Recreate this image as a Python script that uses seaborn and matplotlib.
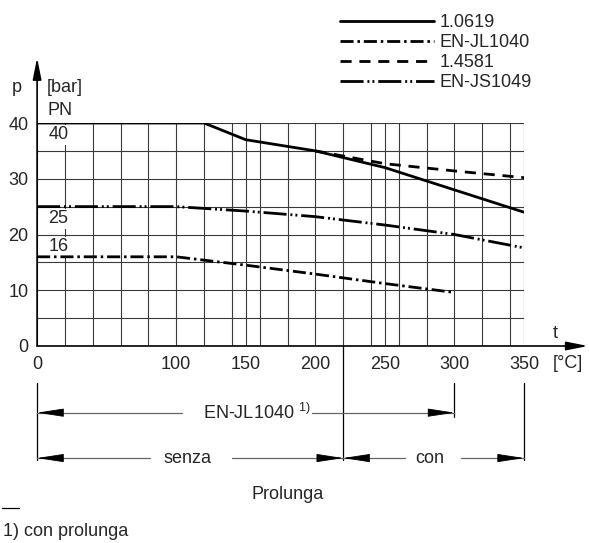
import matplotlib
matplotlib.use('Agg')
import matplotlib.pyplot as plt
import seaborn as sns

# curve data
temp_1_0619 = [0, 120, 150, 200, 250, 300, 350]
p_1_0619 = [40, 40, 37, 35, 32, 28, 24]

temp_1_4581 = [200, 250, 300, 350]
p_1_4581 = [35, 32.7, 31.4, 30.2]

temp_js1049 = [0, 100, 150, 200, 250, 300, 350]
p_js1049 = [25, 25, 24.2, 23.2, 21.7, 20.0, 17.6]

temp_jl1040 = [0, 100, 150, 200, 250, 300]
p_jl1040 = [16, 16, 14.5, 12.9, 11.2, 9.6]

x_ticks = [0, 100, 150, 200, 250, 300, 350]
y_ticks = [0, 10, 20, 30, 40]
x_grid = list(range(0, 360, 20)) + [150, 250, 350]
y_grid = list(range(0, 45, 5))

pn_labels = ['40', '25', '16']
pn_label_p = [37.85, 22.8, 17.8]

sns.set_style('white')
plt.rcParams['font.family'] = ['Liberation Sans', 'DejaVu Sans']
plt.rcParams['font.size'] = 13

fig = plt.figure(figsize=(5.89, 5.43), dpi=100)
ax = fig.add_axes([37.1 / 589, 197 / 543, 486.9 / 589, 223 / 543])

lw = 2.0
sns.lineplot(x=temp_1_0619, y=p_1_0619, ax=ax, color='black', lw=lw,
             label='1.0619', zorder=5)
sns.lineplot(x=temp_jl1040, y=p_jl1040, ax=ax, color='black', lw=lw,
             linestyle=(0, (4.7, 1.4, 0.9, 1.4)), label='EN-JL1040', zorder=5)
sns.lineplot(x=temp_1_4581, y=p_1_4581, ax=ax, color='black', lw=lw,
             linestyle=(0, (4.0, 2.8)), label='1.4581', zorder=5)
sns.lineplot(x=temp_js1049, y=p_js1049, ax=ax, color='black', lw=lw,
             linestyle=(0, (8.3, 1.4, 0.7, 1.1, 0.7, 1.4)), label='EN-JS1049', zorder=5)

ax.set_xlim(0, 350)
ax.set_ylim(0, 40)
ax.set_xticks(x_ticks)
ax.set_yticks(y_ticks)
ax.set_xticks(x_grid, minor=True)
ax.set_yticks(y_grid, minor=True)
ax.grid(which='both', color='#3a3a3a', lw=0.8)
ax.set_axisbelow(True)
ax.tick_params(axis='x', which='major', length=2.5, width=1, pad=5, labelsize=13)
ax.tick_params(axis='y', which='major', length=3.6, width=1, pad=2.5, labelsize=13)
ax.tick_params(which='minor', length=0)
for s in ax.spines.values():
    s.set_visible(False)
ax.set_xlabel('')
ax.set_ylabel('')

# axes with arrows
arrow_kw = dict(arrowstyle='-|>,head_length=1.0,head_width=0.2', color='black',
                lw=1.2, shrinkA=0, shrinkB=0)
ax.annotate('', xy=(0, 51.7), xytext=(0, 0), arrowprops=arrow_kw, annotation_clip=False)
ax.annotate('', xy=(396, 0), xytext=(0, 0), arrowprops=arrow_kw, annotation_clip=False)

# axis labels
ax.text(-14.4, 46.3, 'p', ha='center', va='center')
ax.text(7.1, 46.3, '[bar]', ha='left', va='center')
ax.text(7.8, 42.3, 'PN', ha='left', va='center')
for lab, pv in zip(pn_labels, pn_label_p):
    ax.text(8.0, pv, lab, ha='left', va='center', zorder=4,
            bbox=dict(facecolor='white', edgecolor='none', pad=1.0))
ax.text(372.8, 2.3, 't', ha='center', va='center', clip_on=False)
ax.text(381.4, -3.05, '[°C]', ha='center', va='center', clip_on=False)

# range markers below the chart
for xv, y_end in [(0, -20.4), (300, -12.7), (350, -20.4)]:
    ax.plot([xv, xv], [-6.6, y_end], color='black', lw=0.9, clip_on=False)
ax.plot([220, 220], [0, -20.4], color='black', lw=0.9, clip_on=False)

head_kw = dict(arrowstyle='-|>,head_length=1.3,head_width=0.2', color='black',
               lw=0.6, shrinkA=0, shrinkB=0)


def dim_arrow(x_from, x_to, yv):
    ax.plot([x_from, x_to], [yv, yv], color='#666666', lw=0.9, clip_on=False)
    back = 10 if x_to > x_from else -10
    ax.annotate('', xy=(x_to, yv), xytext=(x_to - back, yv), arrowprops=head_kw,
                annotation_clip=False)


y_jl = -11.96
dim_arrow(104.1, 0, y_jl)
dim_arrow(197.5, 300, y_jl)
ax.text(119.2, y_jl, r'EN-JL1040 $^{\mathregular{1)}}$', ha='left', va='center')

y_pr = -20.1
dim_arrow(81.1, 0, y_pr)
dim_arrow(140.0, 220, y_pr)
ax.text(108.4, y_pr, 'senza', ha='center', va='center')
dim_arrow(264.3, 220, y_pr)
dim_arrow(304.5, 350, y_pr)
ax.text(282.3, y_pr, 'con', ha='center', va='center')

ax.text(180, -26.7, 'Prolunga', ha='center', va='center')

# footnote
fig.add_artist(plt.Line2D([2 / 589, 19 / 589], [1 - 508 / 543, 1 - 508 / 543],
                          color='black', lw=0.9))
fig.text(3 / 589, 1 - 532 / 543, '1) con prolunga', ha='left', va='center')

# legend
handles, labels = ax.get_legend_handles_labels()
ax.legend(handles, labels, loc='upper left', bbox_to_anchor=(331 / 589, 1 - 5 / 543),
          bbox_transform=fig.transFigure, frameon=False, borderpad=0,
          handlelength=5.2, handletextpad=0.3, labelspacing=0.17, fontsize=13)

fig.savefig('out.png', dpi=100)
